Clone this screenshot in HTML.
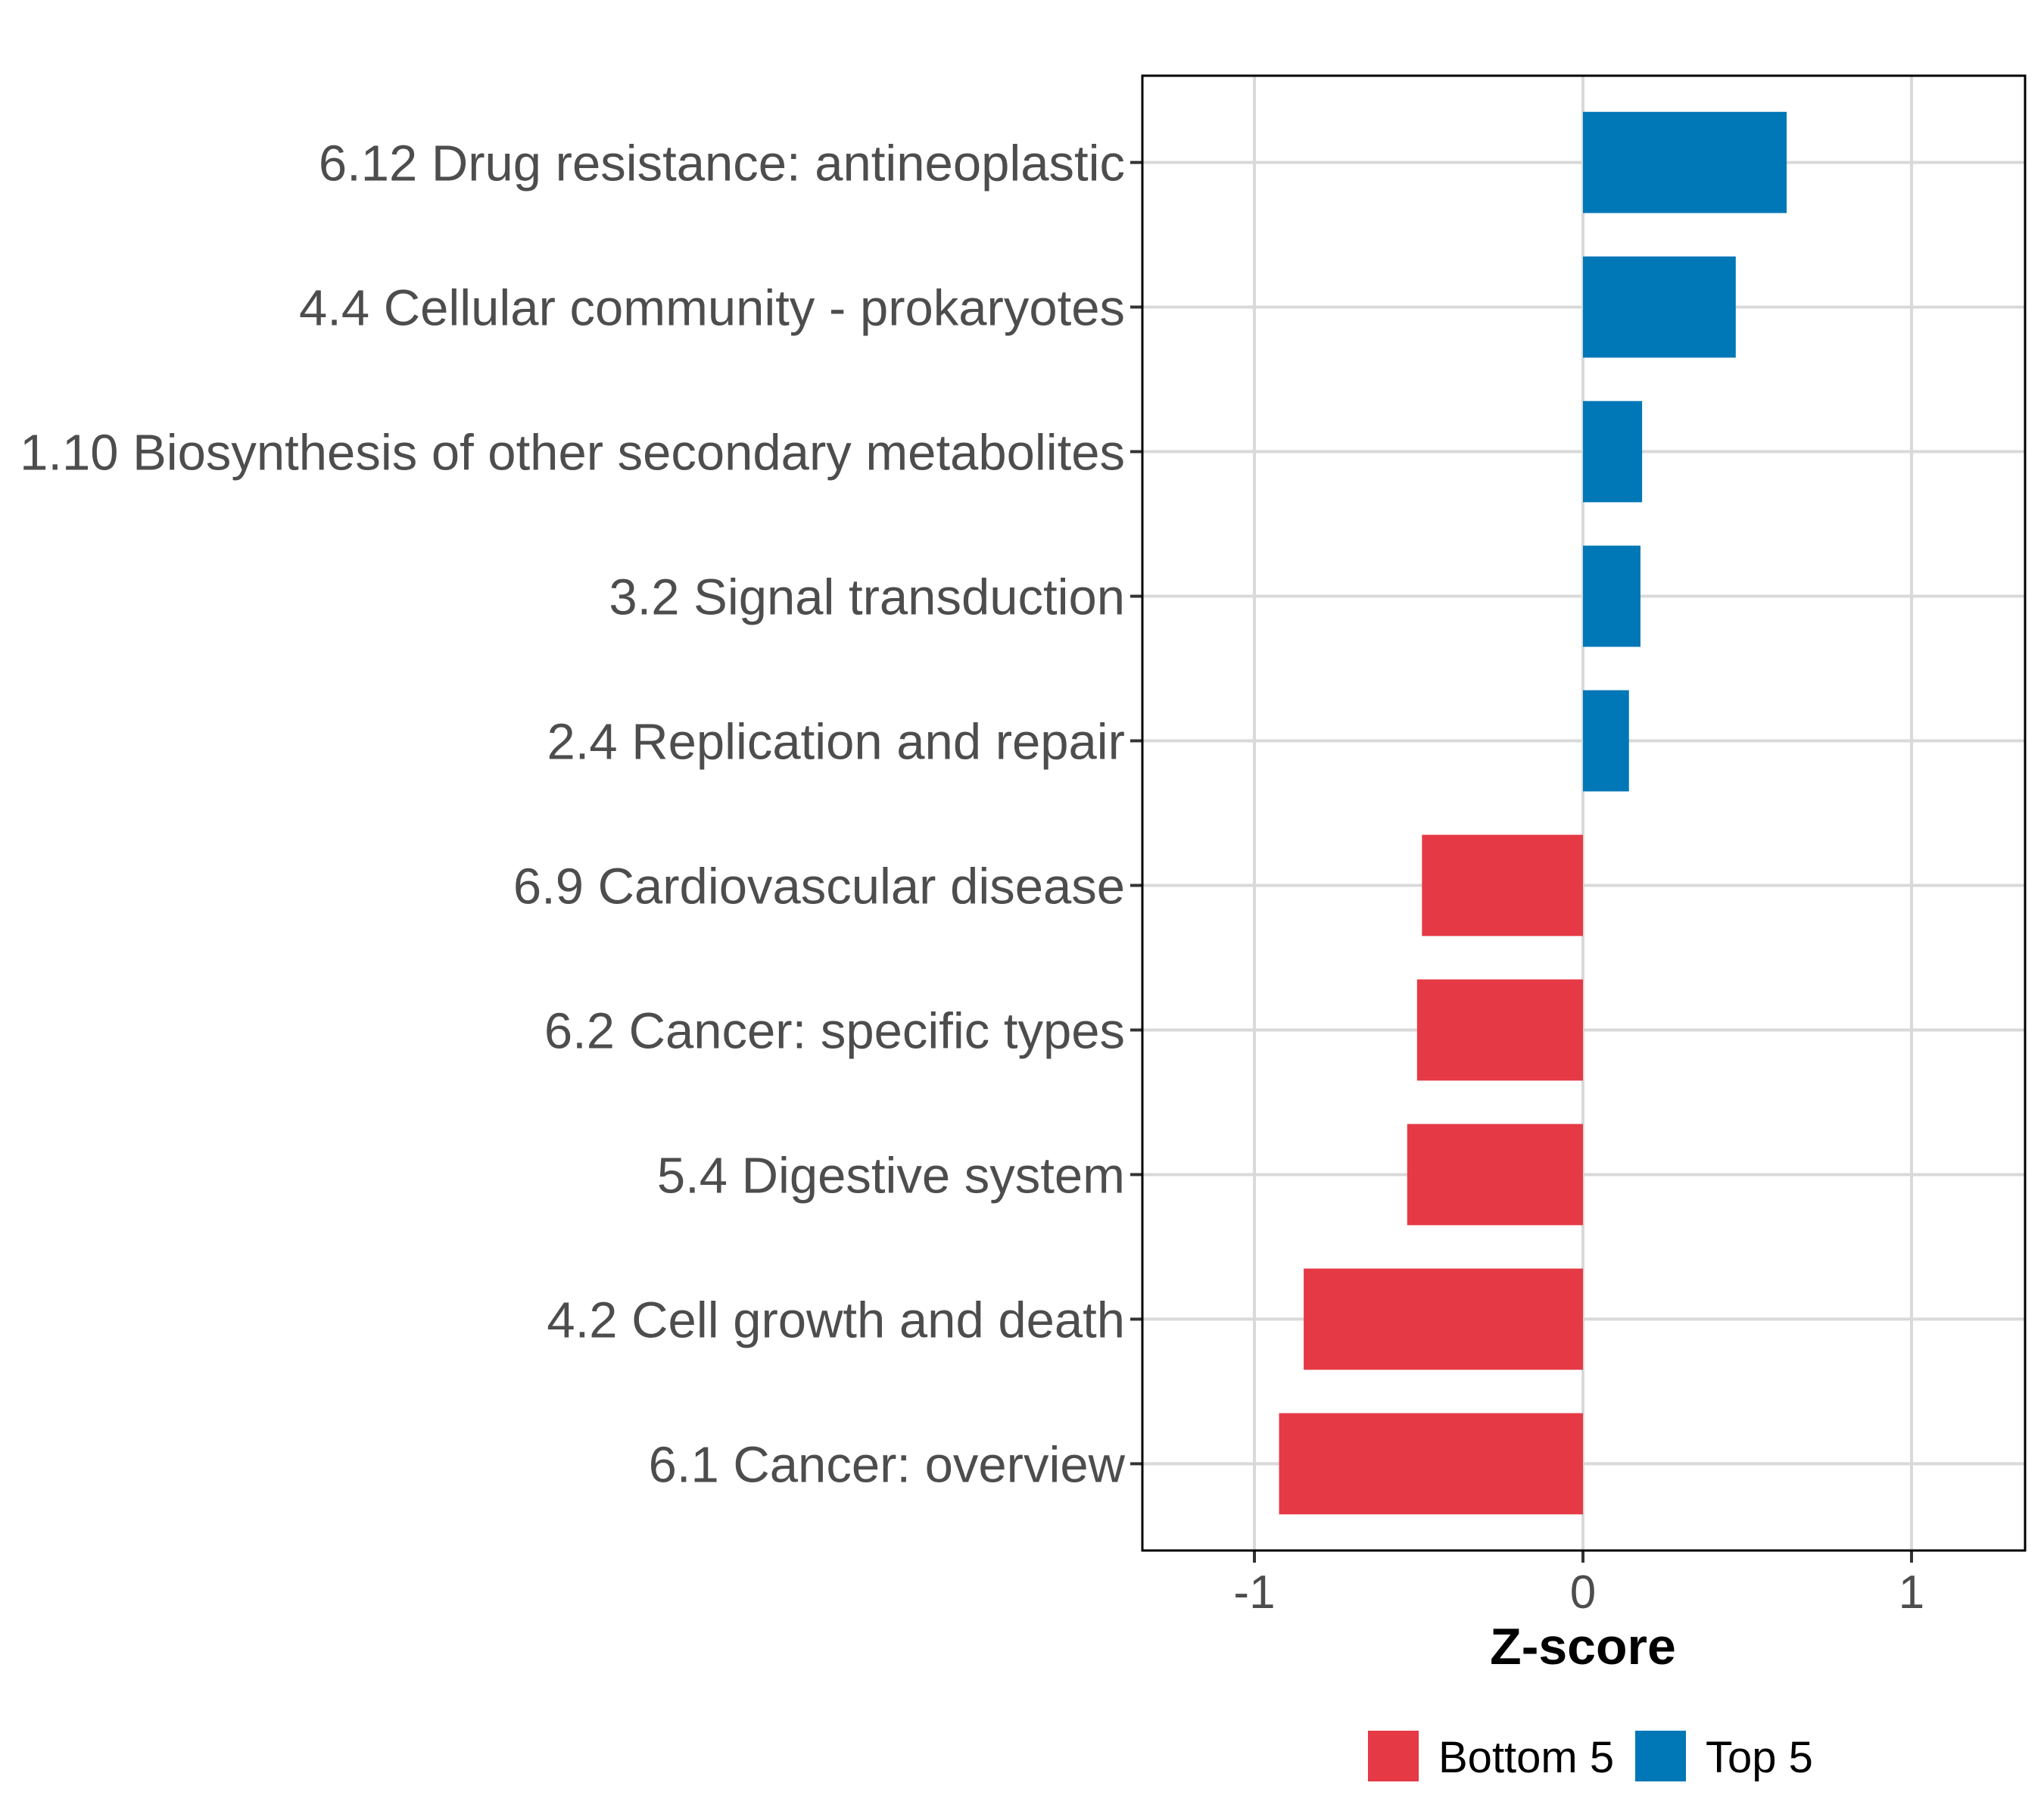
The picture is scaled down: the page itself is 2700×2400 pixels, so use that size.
<!DOCTYPE html>
<html><head><meta charset="utf-8"><style>
html,body{margin:0;padding:0;background:#fff;}
svg{display:block;font-family:"Liberation Sans",Arial,sans-serif;}
</style></head><body>
<svg id="chart" width="2700" height="2400" viewBox="0 0 2700 2400">
<g id="grid"></g>
<g id="bars"></g>
<g id="axes"></g>
<text x="2091" y="2198" text-anchor="middle" font-size="68" font-weight="bold" fill="#000">Z-score</text>
<g>
<rect x="1807" y="2286" width="67" height="67" fill="#E63946"/>
<text x="1900" y="2341" font-size="58" fill="#000">Bottom 5</text>
<rect x="2160" y="2286" width="67" height="67" fill="#0077B6"/>
<text x="2253" y="2341" font-size="58" fill="#000">Top 5</text>
</g>
</svg>
<script>
const categories = ["6.12 Drug resistance: antineoplastic","4.4 Cellular community - prokaryotes","1.10 Biosynthesis of other secondary metabolites","3.2 Signal transduction","2.4 Replication and repair","6.9 Cardiovascular disease","6.2 Cancer: specific types","5.4 Digestive system","4.2 Cell growth and death","6.1 Cancer: overview"];
const values = [0.62,0.465,0.18,0.175,0.14,-0.49,-0.505,-0.535,-0.85,-0.925];
const groups = ["Top 5","Top 5","Top 5","Top 5","Top 5","Bottom 5","Bottom 5","Bottom 5","Bottom 5","Bottom 5"];
const xTicks = [-1,0,1];
const xTickLabels = ["-1","0","1"];

const NS="http://www.w3.org/2000/svg";
const PL=1509,PR=2675,PT=100,PB=2048;
const x0=2091,unit=434;
function xs(v){return x0+v*unit;}
const step=(PB-PT)/(categories.length+0.2);
function ys(i){return PT+step*(0.6+i);}
const barH=step*0.7;
function mk(tag,attrs,parent){const e=document.createElementNS(NS,tag);for(const k in attrs)e.setAttribute(k,attrs[k]);parent.appendChild(e);return e;}
const grid=document.getElementById('grid'),bars=document.getElementById('bars'),axes=document.getElementById('axes');
mk('rect',{x:PL,y:PT,width:PR-PL,height:PB-PT,fill:'#fff'},grid);
xTicks.forEach((t,i)=>{
  const l=mk('line',{x1:xs(t),x2:xs(t),y1:PT,y2:PB,stroke:'#d9d9d9','stroke-width':4},grid);
  
  
  const tk=mk('line',{x1:xs(t),x2:xs(t),y1:PB,y2:PB+16,stroke:'#333','stroke-width':4},axes);
  
  
  const tx=mk('text',{x:xs(t),y:PB+76,'text-anchor':'middle','font-size':62,fill:'#4d4d4d'},axes);
  tx.textContent=xTickLabels[i];
  
  
});
categories.forEach((c,i)=>{
  const y=ys(i);
  const g=mk('line',{x1:PL,x2:PR,y1:y,y2:y,stroke:'#d9d9d9','stroke-width':4},grid);
  
  
  const v=values[i];
  const r=mk('rect',{x:Math.min(xs(0),xs(v)),y:y-barH/2,width:Math.abs(xs(v)-xs(0)),height:barH,fill:groups[i]==="Top 5"?'#0077B6':'#E63946'},bars);
  
  
  const tk=mk('line',{x1:PL-16,x2:PL,y1:y,y2:y,stroke:'#333','stroke-width':4},axes);
  
  
  const tx=mk('text',{x:PL-23,y:y+24,'text-anchor':'end','font-size':67,fill:'#4d4d4d'},axes);
  tx.textContent=c;
  
  
});
const border=mk('rect',{x:PL,y:PT,width:PR-PL,height:PB-PT,fill:'none',stroke:'#000','stroke-width':3},axes);


</script>
</body></html>
